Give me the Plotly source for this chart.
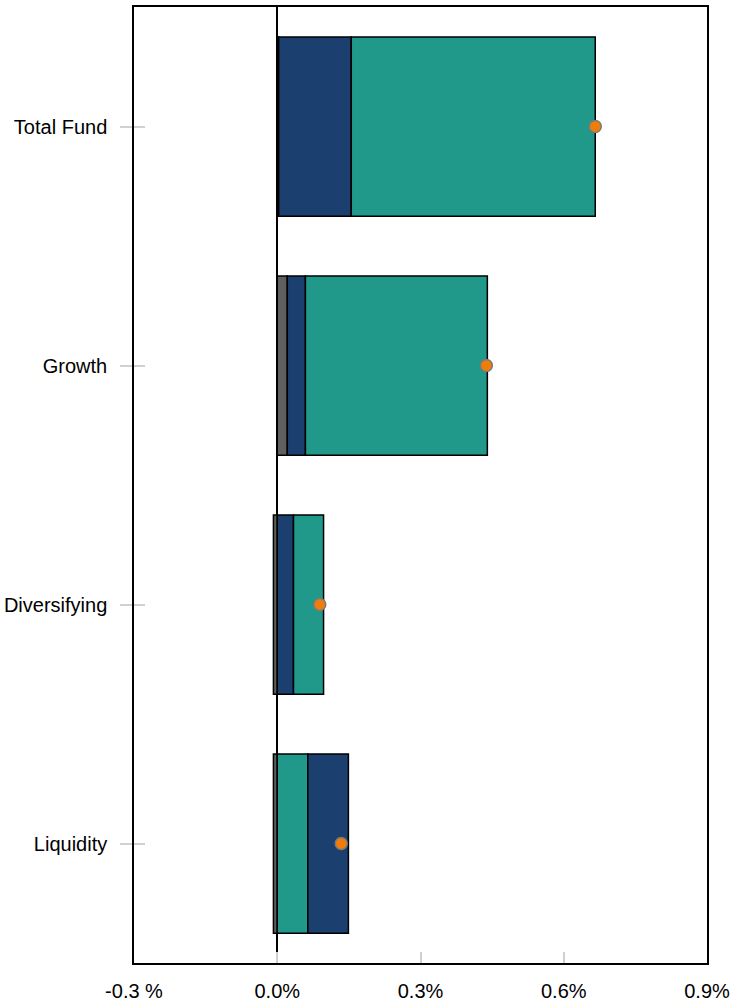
import plotly.graph_objects as go

categories = ["Total Fund", "Growth", "Diversifying", "Liquidity"]
gray_vals = [0.003, 0.021, -0.008, -0.008]
navy_vals = [0.152, 0.038, 0.034, 0.085]
teal_vals = [0.511, 0.381, 0.063, 0.064]
total_vals = [0.666, 0.438, 0.089, 0.134]
# order in which the positive pieces are stacked, per category
stack_order = [["navy", "teal"], ["navy", "teal"], ["navy", "teal"], ["teal", "navy"]]

x_tickvals = [-0.3, 0.0, 0.3, 0.6, 0.9]
x_ticktext = ["-0.3 %", "0.0%", "0.3%", "0.6%", "0.9%"]

colors = {"gray": "#5f5f5f", "navy": "#1b3f6e", "teal": "#20998a"}
series = {"navy": navy_vals, "teal": teal_vals}
FONT = "Liberation Sans, Arial, sans-serif"

fig = go.Figure()
line = dict(color="#000000", width=1.5)

fig.add_trace(go.Bar(y=categories, x=gray_vals, orientation="h",
                     marker=dict(color=colors["gray"], line=line),
                     width=0.75, hoverinfo="skip"))
for pos in range(2):
    keys = [stack_order[i][pos] for i in range(len(categories))]
    fig.add_trace(go.Bar(
        y=categories,
        x=[series[k][i] for i, k in enumerate(keys)],
        orientation="h",
        marker=dict(color=[colors[k] for k in keys], line=line),
        width=0.75, hoverinfo="skip"))

fig.add_trace(go.Scatter(y=categories, x=total_vals, mode="markers",
                         marker=dict(color="#f07d0a", size=12,
                                     line=dict(color="#7a7a7a", width=1.5)),
                         hoverinfo="skip"))
# invisible trace for the inner tick axis
fig.add_trace(go.Scatter(y=categories, x=total_vals, mode="markers", yaxis="y2",
                         marker=dict(opacity=0), hoverinfo="skip"))

cat_rev = categories[::-1]
fig.update_layout(
    width=730, height=1006,
    barmode="relative",
    showlegend=False,
    plot_bgcolor="white", paper_bgcolor="white",
    margin=dict(l=134, r=23, t=7, b=43, autoexpand=False),
    font=dict(family=FONT, size=20, color="#000000"),
    xaxis=dict(range=[-0.300001, 0.900001], tickvals=x_tickvals, ticktext=x_ticktext,
               automargin=False, ticklabeloverflow="allow",
               showgrid=False, zeroline=True, zerolinecolor="#000000", zerolinewidth=1.5,
               showline=True, linecolor="#000000", linewidth=1.5, mirror=True,
               ticks="inside", ticklen=11, tickcolor="#d0d0d0", tickwidth=1.5,
               ticklabelstandoff=9),
    yaxis=dict(type="category", categoryorder="array", categoryarray=cat_rev,
               automargin=False,
               range=[-0.5, 3.5], showgrid=False, zeroline=False,
               showline=True, linecolor="#000000", linewidth=1.5, mirror=True,
               ticks="outside", ticklen=12, tickcolor="#d0d0d0", tickwidth=1.5,
               ticklabelstandoff=9),
    yaxis2=dict(type="category", categoryorder="array", categoryarray=cat_rev,
                automargin=False,
                range=[-0.5, 3.5], overlaying="y", side="left", showgrid=False,
                zeroline=False, showline=False, showticklabels=False,
                ticks="inside", ticklen=11, tickcolor="#d0d0d0", tickwidth=1.5),
)

fig.write_html("out.html", config={"displayModeBar": False},
               post_script="document.body.style.margin='0';document.body.style.overflow='hidden';")
